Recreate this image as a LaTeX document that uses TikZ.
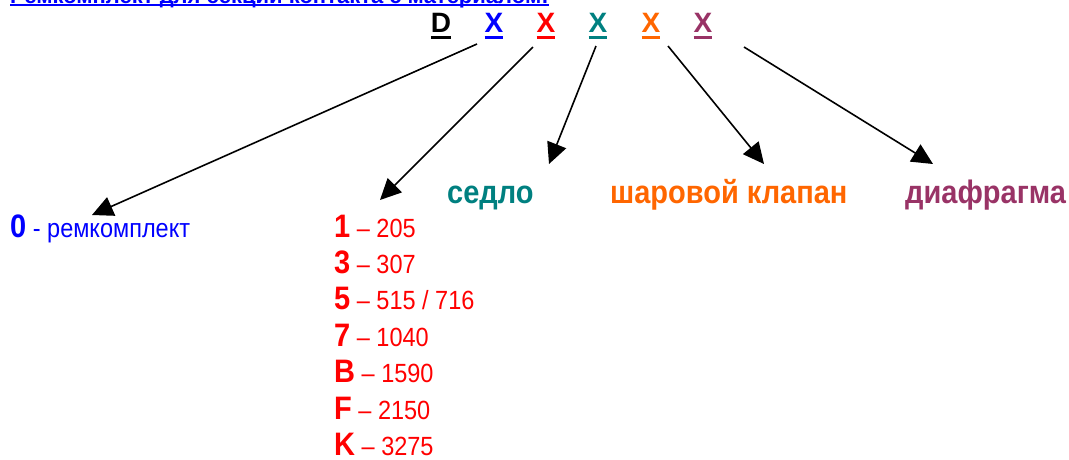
\documentclass[tikz,border=0pt]{standalone}
\usepackage{fontspec}
\setmainfont{Liberation Sans}
\usetikzlibrary{arrows.meta}

\definecolor{keyblue}{HTML}{0000FF}
\definecolor{keyred}{HTML}{FF0000}
\definecolor{keyteal}{HTML}{008080}
\definecolor{keyorange}{HTML}{FF6600}
\definecolor{keyplum}{HTML}{993366}

% slightly taller letters, as in the original
\newcommand{\tall}[1]{\scalebox{1}[1.12]{#1}}
% underlined text with a thick rule
\newcommand{\ulthick}[3]{\setbox0=\hbox{#1}\rlap{\copy0}\rule[#2]{\wd0}{#3}}

\tikzset{
  codeletter/.style={anchor=base, inner sep=0pt, font=\fontsize{28}{28}\selectfont\bfseries},
  pointer/.style={-{Triangle[length=21pt,width=20pt]}, line width=1.6pt, black},
  heading/.style={anchor=base west, inner sep=0pt, font=\fontsize{29}{29}\selectfont\bfseries},
  entry/.style={anchor=base west, inner sep=0pt, font=\fontsize{23.5}{23.5}\selectfont},
}
\newcommand{\bigkey}[1]{{\fontsize{29}{29}\selectfont\bfseries #1}}

\begin{document}
\begin{tikzpicture}[x=1pt, y=-1pt]
	\useasboundingbox (0,0) rectangle (1069,459);
	% Title (cut off at the top):
	\node[anchor=base west, inner sep=0pt, text=keyblue, font=\fontsize{22}{22}\selectfont\bfseries] (title) at (10,3) {\ulthick{Ремкомплект для секции контакта с материалом:}{-3pt}{2pt}};
	% Code letters:
	\node[codeletter, text=black] (cD) at (441,32) {\ulthick{D}{-7pt}{3pt}};
	\node[codeletter, text=keyblue] (c1) at (494,32) {\ulthick{X}{-7pt}{3pt}};
	\node[codeletter, text=keyred] (c2) at (546,32) {\ulthick{X}{-7pt}{3pt}};
	\node[codeletter, text=keyteal] (c3) at (598,32) {\ulthick{X}{-7pt}{3pt}};
	\node[codeletter, text=keyorange] (c4) at (651,32) {\ulthick{X}{-7pt}{3pt}};
	\node[codeletter, text=keyplum] (c5) at (703,32) {\ulthick{X}{-7pt}{3pt}};
	% Headings and legends:
	\node[heading, text=keyteal] (seat) at (447,203) {\tall{седло}};
	\node[heading, text=keyorange] (ball) at (610,203) {\tall{шаровой клапан}};
	\node[heading, text=keyplum] (diaph) at (905,203) {\tall{диафрагма}};
	\node[entry, text=keyblue] (kit) at (10,237) {\tall{\bigkey{0} - ремкомплект}};
	\foreach \k/\v [count=\i from 0] in {1/205, 3/307, 5/{515 / 716}, 7/1040, B/1590, F/2150, K/3275}
		\node[entry, text depth=0pt, text=keyred] (size\i) at (334,237+36.4*\i) {\tall{\bigkey{\k} – \v}};
	% Arrows:
	\coordinate (s1) at (477,44);  \coordinate (t1) at (92,215);
	\coordinate (s2) at (533,47);  \coordinate (t2) at (380,200);
	\coordinate (s3) at (596,46);  \coordinate (t3) at (549,164);
	\coordinate (s4) at (668,46);  \coordinate (t4) at (764,164);
	\coordinate (s5) at (744,47);  \coordinate (t5) at (933,164);
	\foreach \j in {1,...,5}
		\draw[pointer] (s\j) -- (t\j);
\end{tikzpicture}
\end{document}
